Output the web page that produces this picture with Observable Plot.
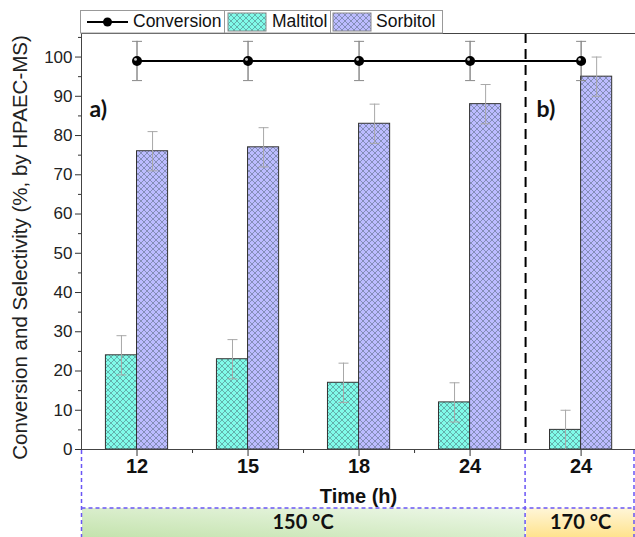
<!DOCTYPE html>
<html>
<head>
<meta charset="utf-8">
<script src="https://cdn.jsdelivr.net/npm/d3@7"></script>
<script src="https://cdn.jsdelivr.net/npm/@observablehq/plot@0.6"></script>
<style>
  html, body { margin: 0; padding: 0; background: #fff; }
  #chart svg { display: block; }
</style>
</head>
<body>
<div id="chart"></div>
<script>
// ---- data ----
const groups = ["12", "15", "18", "24", "24"];
const maltitol = [24, 23, 17, 12, 5];
const sorbitol = [76, 77, 83, 88, 95];
const conversion = [99, 99, 99, 99, 99];
const maltitolErr = [5, 5, 5, 5, 5];
const sorbitolErr = [5, 5, 5, 5, 5];
const conversionErr = [5, 5, 5, 5, 5];
const temperatures = ["150 °C", "170 °C"];
const temperatureGroups = [[0, 3], [4, 4]]; // first and last group index
const panelLabels = ["a)", "b)"];
const yTicks = d3.range(0, 101, 10);
const yMinorTicks = d3.range(5, 106, 10);
const seriesNames = ["Conversion", "Maltitol", "Sorbitol"];

const idx = groups.map((_, i) => i);
const bw = 0.28;     // bar width in band units
const capW = 0.045;  // half cap width in band units

const FONT = "Liberation Sans, Arial, sans-serif";
const NARROW = "'Liberation Sans Narrow', 'Arial Narrow', 'Liberation Sans', Arial, sans-serif";
const BOLDF = "Lato, 'Open Sans', sans-serif";

function errMarks(vals, errs, offset, stemColor, capColor) {
  return [
    Plot.ruleX(idx, {x: i => i + offset, y1: i => vals[i] - errs[i], y2: i => vals[i] + errs[i], stroke: stemColor, strokeWidth: 1}),
    Plot.link(idx, {x1: i => i + offset - capW, x2: i => i + offset + capW, y1: i => vals[i] + errs[i], y2: i => vals[i] + errs[i], stroke: capColor, strokeWidth: 1}),
    Plot.link(idx, {x1: i => i + offset - capW, x2: i => i + offset + capW, y1: i => vals[i] - errs[i], y2: i => vals[i] - errs[i], stroke: capColor, strokeWidth: 1})
  ];
}

const svgEl = Plot.plot({
  width: 635,
  height: 537,
  marginLeft: 81,
  marginRight: 0,
  marginTop: 33,
  marginBottom: 88,
  style: {fontFamily: FONT, background: "#fff", color: "#222"},
  x: {domain: [-0.5, 4.49], axis: null},
  y: {domain: [0, 106], axis: null},
  marks: [
    // bars
    Plot.rect(idx, {x1: i => i - bw, x2: i => i, y1: 0, y2: i => maltitol[i], fill: "url(#hatchC)", stroke: "#333", strokeWidth: 1}),
    Plot.rect(idx, {x1: i => i, x2: i => i + bw, y1: 0, y2: i => sorbitol[i], fill: "url(#hatchP)", stroke: "#333", strokeWidth: 1}),
    ...errMarks(maltitol, maltitolErr, -bw / 2, "#a8a8a8", "#a8a8a8"),
    ...errMarks(sorbitol, sorbitolErr, bw / 2, "#a8a8a8", "#a8a8a8"),
    // dashed separator
    Plot.ruleX([3.5], {stroke: "#000", strokeWidth: 2, strokeDasharray: "10,6"}),
    // conversion
    ...errMarks(conversion, conversionErr, 0, "#555", "#888"),
    Plot.line(idx, {x: i => i, y: i => conversion[i], stroke: "#000", strokeWidth: 2}),
    Plot.dot(idx, {x: i => i, y: i => conversion[i], r: 5, fill: "#000"}),
    Plot.dot(idx, {x: i => i, y: i => conversion[i], r: 1.4, fill: "#fff", fillOpacity: 0.8, dx: -1.5, dy: -1.5}),
    // panel labels
    Plot.text([panelLabels[0]], {frameAnchor: "top-left", dx: 8, dy: 67, text: d => d, textAnchor: "start", fontSize: 23, fontWeight: "bold", fontFamily: BOLDF, fill: "#111"}),
    Plot.text([panelLabels[1]], {x: () => 3.5, frameAnchor: "top", dx: 11, dy: 67, text: d => d, textAnchor: "start", fontSize: 23, fontWeight: "bold", fontFamily: BOLDF, fill: "#111"}),
    // axes
    Plot.axisY(yTicks, {tickSize: 6, tickPadding: 3, fontSize: 17, label: null, stroke: "#333", fill: "#222"}),
    Plot.axisY(yMinorTicks, {tickSize: 3, text: null, label: null, stroke: "#333"}),
    Plot.axisX(idx, {tickSize: 7, tickPadding: 2, tickFormat: i => groups[i], fontSize: 20, fontWeight: "bold", fontFamily: NARROW, label: null, stroke: "#333", fill: "#111"}),
    Plot.axisX([0.5, 1.5, 2.5], {tickSize: 4, text: null, label: null, stroke: "#333"}),
    Plot.text(["Conversion and Selectivity (%, by HPAEC-MS)"], {frameAnchor: "left", textAnchor: "middle", lineAnchor: "middle", rotate: -90, dx: -61, dy: 6, text: d => d, fontSize: 20.5, fill: "#222"}),
    Plot.text(["Time (h)"], {frameAnchor: "bottom", lineAnchor: "middle", dy: 47, text: d => d, fontSize: 20, fontWeight: "bold", fontFamily: NARROW, fill: "#111"}),
    Plot.frame({stroke: "#444", strokeWidth: 1})
  ]
});

document.getElementById("chart").appendChild(svgEl);
const svg = d3.select(svgEl);
const xs = svgEl.scale("x");

// patterns and gradients
const defs = svg.insert("defs", ":first-child");
function hatch(id, color) {
  const p = defs.append("pattern").attr("id", id).attr("width", 6).attr("height", 6).attr("patternUnits", "userSpaceOnUse");
  p.append("rect").attr("width", 6).attr("height", 6).attr("fill", color);
  p.append("path").attr("d", "M0,0L6,6M6,0L0,6").attr("stroke", "#3f5560").attr("stroke-width", 0.6).attr("stroke-opacity", 0.75).attr("fill", "none");
}
hatch("hatchC", "#80fbe9");
hatch("hatchP", "#bcbcff");
const gG = defs.append("linearGradient").attr("id", "gradG").attr("x1", 0).attr("y1", 1).attr("x2", 1).attr("y2", 0);
gG.append("stop").attr("offset", 0).attr("stop-color", "#c4e3ad");
gG.append("stop").attr("offset", 1).attr("stop-color", "#eef8ea");
const gY = defs.append("linearGradient").attr("id", "gradY").attr("x1", 0).attr("y1", 1).attr("x2", 0).attr("y2", 0);
gY.append("stop").attr("offset", 0).attr("stop-color", "#ffe38e");
gY.append("stop").attr("offset", 1).attr("stop-color", "#fff6d8");

// temperature bands below the axis
const axisY0 = 449, bandTop = 508, bottom = 537;
const bands = svg.append("g");
temperatureGroups.forEach(([a, b], k) => {
  const x1 = xs.apply(a - 0.5), x2 = xs.apply(b + 0.5);
  bands.append("rect").attr("x", x1 + 1).attr("y", bandTop).attr("width", x2 - x1 - 1).attr("height", bottom - bandTop)
    .attr("fill", k === 0 ? "url(#gradG)" : "url(#gradY)");
  bands.append("text").attr("x", (x1 + x2) / 2).attr("y", (bandTop + bottom) / 2 + 1).attr("text-anchor", "middle")
    .attr("dominant-baseline", "middle").attr("font-family", BOLDF).attr("font-weight", "bold").attr("font-size", 20)
    .attr("fill", "#111").text(temperatures[k]);
});
const blue = "#6a55f5";
const dash = "4,3";
const edges = [xs.apply(-0.5) + 0.5, xs.apply(3.5), 634];
edges.forEach(x => bands.append("line").attr("x1", x).attr("x2", x).attr("y1", axisY0 + 1).attr("y2", bottom)
  .attr("stroke", blue).attr("stroke-width", 1.5).attr("stroke-dasharray", dash));
bands.append("line").attr("x1", edges[0]).attr("x2", 634).attr("y1", bandTop).attr("y2", bandTop)
  .attr("stroke", blue).attr("stroke-width", 1.5).attr("stroke-dasharray", dash);

// legend
const lg = svg.append("g").attr("font-family", FONT).attr("font-size", 17.5).attr("fill", "#111").attr("text-anchor", "start");
lg.append("rect").attr("x", 80.5).attr("y", 10.5).attr("width", 362).attr("height", 22.5).attr("fill", "#fff").attr("stroke", "#999");
lg.append("line").attr("x1", 87).attr("x2", 128).attr("y1", 22).attr("y2", 22).attr("stroke", "#000").attr("stroke-width", 2);
lg.append("circle").attr("cx", 107.5).attr("cy", 22).attr("r", 4.5).attr("fill", "#000");
lg.append("text").attr("x", 133).attr("y", 22).attr("dominant-baseline", "middle").text(seriesNames[0]);
lg.append("line").attr("x1", 224.5).attr("x2", 224.5).attr("y1", 10.5).attr("y2", 33).attr("stroke", "#999");
lg.append("rect").attr("x", 228).attr("y", 13).attr("width", 38).attr("height", 18).attr("fill", "url(#hatchC)").attr("stroke", "#888");
lg.append("text").attr("x", 272).attr("y", 22).attr("dominant-baseline", "middle").text(seriesNames[1]);
lg.append("line").attr("x1", 330.5).attr("x2", 330.5).attr("y1", 10.5).attr("y2", 33).attr("stroke", "#999");
lg.append("rect").attr("x", 333).attr("y", 13).attr("width", 38).attr("height", 18).attr("fill", "url(#hatchP)").attr("stroke", "#888");
lg.append("text").attr("x", 376).attr("y", 22).attr("dominant-baseline", "middle").text(seriesNames[2]);
</script>
</body>
</html>
